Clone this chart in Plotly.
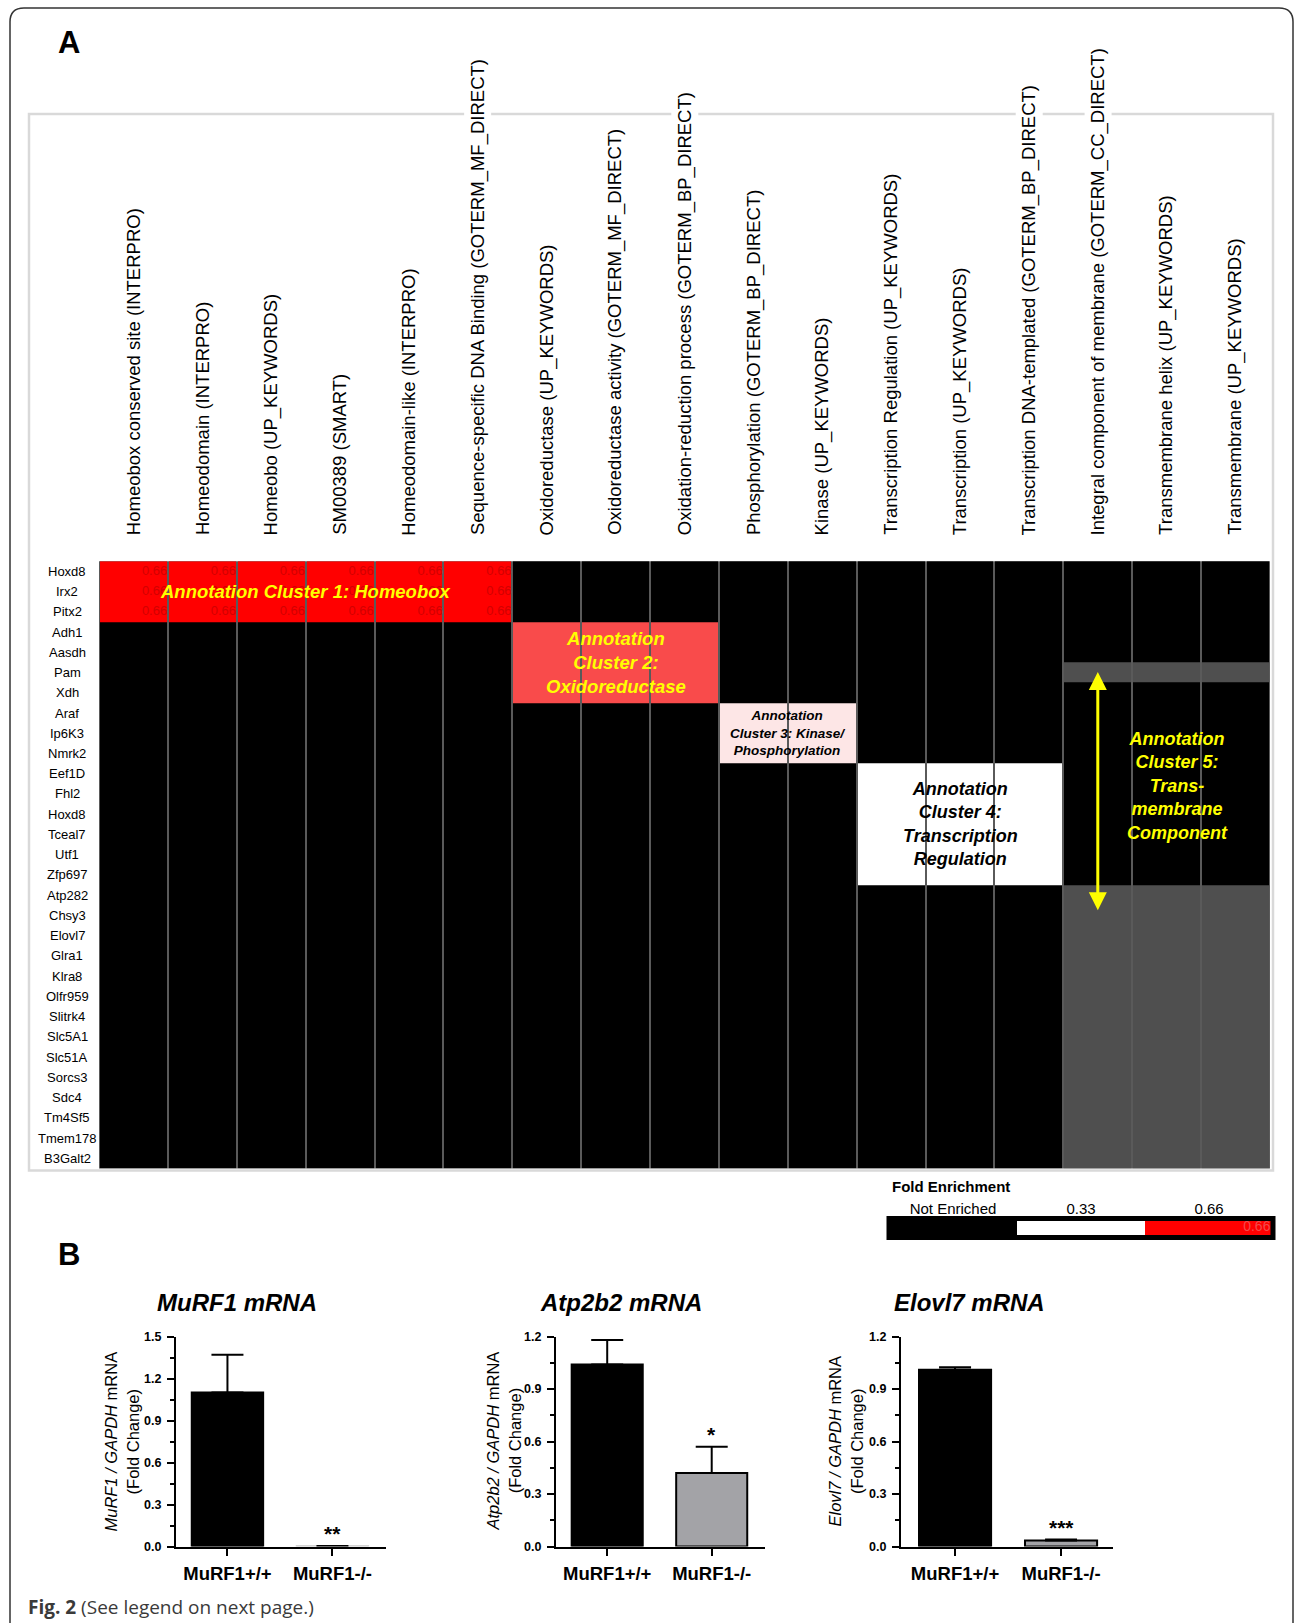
import plotly.graph_objects as go

W, H = 1295, 1623
# measured vertical mapping of the capture (rendered_y = 7 + 0.991 * layout_y); invert it
V_OFF, V_SCALE = 7.0, 0.991


def fx(px):
    return px / W


def fy(py):
    return 1 - (py - V_OFF) / (V_SCALE * H)


# ---------------- Panel A data ----------------
terms = [
    "Homeobox conserved site (INTERPRO)",
    "Homeodomain (INTERPRO)",
    "Homeobo (UP_KEYWORDS)",
    "SM00389 (SMART)",
    "Homeodomain-like (INTERPRO)",
    "Sequence-specific DNA Binding (GOTERM_MF_DIRECT)",
    "Oxidoreductase (UP_KEYWORDS)",
    "Oxidoreductase activity (GOTERM_MF_DIRECT)",
    "Oxidation-reduction process (GOTERM_BP_DIRECT)",
    "Phosphorylation (GOTERM_BP_DIRECT)",
    "Kinase (UP_KEYWORDS)",
    "Transcription Regulation (UP_KEYWORDS)",
    "Transcription (UP_KEYWORDS)",
    "Transcription DNA-templated (GOTERM_BP_DIRECT)",
    "Integral component of membrane (GOTERM_CC_DIRECT)",
    "Transmembrane helix (UP_KEYWORDS)",
    "Transmembrane (UP_KEYWORDS)",
]

genes = [
    "Hoxd8", "Irx2", "Pitx2", "Adh1", "Aasdh", "Pam", "Xdh", "Araf", "Ip6K3",
    "Nmrk2", "Eef1D", "Fhl2", "Hoxd8", "Tceal7", "Utf1", "Zfp697", "Atp282",
    "Chsy3", "Elovl7", "Glra1", "Klra8", "Olfr959", "Slitrk4", "Slc5A1",
    "Slc51A", "Sorcs3", "Sdc4", "Tm4Sf5", "Tmem178", "B3Galt2",
]

# cell categories: 0 not enriched, 1 cluster-5 shading, 2 = 0.33, 3 cluster-3 tint,
# 4 cluster-2 tint, 5 = 0.66
level_colors = ["#000000", "#4f4f4f", "#ffffff", "#fde6e6", "#f94b4b", "#ff0000"]

cluster_rows = [
    [0, 1, 2],
    [3, 4, 5, 6],
    [7, 8, 9],
    [10, 11, 12, 13, 14, 15],
    [5] + list(range(16, 30)),
]
cluster_cols = [
    [0, 1, 2, 3, 4, 5],
    [6, 7, 8],
    [9, 10],
    [11, 12, 13],
    [14, 15, 16],
]
cluster_level = [5, 4, 3, 2, 1]
cluster_labels = [
    "Annotation Cluster 1: Homeobox",
    "Annotation<br>Cluster 2:<br>Oxidoreductase",
    "Annotation<br>Cluster 3: Kinase/<br>Phosphorylation",
    "Annotation<br>Cluster 4:<br>Transcription<br>Regulation",
    "Annotation<br>Cluster 5:<br>Trans-<br>membrane<br>Component",
]
cluster_label_colors = ["#ffff00", "#ffff00", "#000000", "#000000", "#ffff00"]
cluster_label_sizes = [18.5, 18.5, 13.5, 18, 18]

legend_levels = [0, 2, 5]
legend_ticks = ["Not Enriched", "0.33", "0.66"]

# ---------------- Panel B data ----------------
groups = ["MuRF1+/+", "MuRF1-/-"]
gene_titles = ["MuRF1 mRNA", "Atp2b2 mRNA", "Elovl7 mRNA"]
gene_names = ["MuRF1", "Atp2b2", "Elovl7"]
murf1_mean = [1.10, 0.005]
murf1_sem = [0.27, 0.0]
atp2b2_mean = [1.04, 0.42]
atp2b2_sem = [0.14, 0.15]
elovl7_mean = [1.01, 0.035]
elovl7_sem = [0.015, 0.005]
significance = ["**", "*", "***"]
y_max = [1.5, 1.2, 1.2]

# ---------------- build heatmap matrix ----------------
n_r, n_c = len(genes), len(terms)
z = [[0] * n_c for _ in range(n_r)]
for rows, cols, lev in zip(cluster_rows, cluster_cols, cluster_level):
    for r in rows:
        for c in cols:
            z[r][c] = lev

nlev = len(level_colors)
colorscale = []
for k, col in enumerate(level_colors):
    colorscale.append([k / nlev, col])
    colorscale.append([(k + 1) / nlev, col])

fig = go.Figure()

fig.add_trace(go.Heatmap(
    z=z, x=list(range(n_c)), y=list(range(n_r)),
    colorscale=colorscale, zmin=-0.5, zmax=nlev - 0.5, showscale=False,
    xgap=2, ygap=0, hoverinfo="skip", xaxis="x", yaxis="y",
))

# faint value labels in 0.66 cells
tx, ty, tt = [], [], []
for r in range(n_r):
    for c in range(n_c):
        if z[r][c] == 5:
            tx.append(c + 0.49)
            ty.append(r)
            tt.append("0.66")
fig.add_trace(go.Scatter(
    x=tx, y=ty, text=tt, mode="text", textposition="middle left",
    textfont=dict(family="Liberation Sans, Arial", size=13, color="#d20000"),
    hoverinfo="skip", xaxis="x", yaxis="y", cliponaxis=True,
))

# legend bar
fig.add_trace(go.Heatmap(
    z=[legend_levels], x=list(range(len(legend_levels))), y=[0],
    colorscale=colorscale, zmin=-0.5, zmax=nlev - 0.5, showscale=False,
    hoverinfo="skip", xaxis="x5", yaxis="y5",
))
fig.add_trace(go.Scatter(
    x=[len(legend_levels) - 0.52], y=[0], text=[legend_ticks[-1]], mode="text",
    textposition="middle left",
    textfont=dict(family="Liberation Sans, Arial", size=14, color="#f24a4a"),
    hoverinfo="skip", xaxis="x5", yaxis="y5",
))

# ---------------- bar charts ----------------
means = [murf1_mean, atp2b2_mean, elovl7_mean]
sems = [murf1_sem, atp2b2_sem, elovl7_sem]
bar_fill = [["#000000", "#d4d4d4"], ["#000000", "#a3a3a7"], ["#000000", "#a3a3a7"]]
bar_line = [["#000000", "#d4d4d4"], ["#000000", "#000000"], ["#000000", "#000000"]]
for i in range(3):
    xa, ya = f"x{i + 2}", f"y{i + 2}"
    fig.add_trace(go.Bar(
        x=[0, 1], y=means[i], width=0.68,
        marker=dict(color=bar_fill[i], line=dict(color=bar_line[i], width=2)),
        error_y=dict(type="data", array=sems[i], arrayminus=[0, 0], symmetric=False,
                     thickness=2, width=16, color="#000000"),
        hoverinfo="skip", xaxis=xa, yaxis=ya,
    ))

# ---------------- axes ----------------
layout_axes = {}
layout_axes["xaxis"] = dict(domain=[fx(99), fx(1270)], range=[-0.5, n_c - 0.5],
                            showticklabels=False, showgrid=False, zeroline=False,
                            ticks="", fixedrange=True, anchor="y")
layout_axes["yaxis"] = dict(domain=[fy(1168), fy(561)], range=[n_r - 0.5, -0.5],
                            showticklabels=False, showgrid=False, zeroline=False,
                            ticks="", fixedrange=True, anchor="x")

bar_xdom = [(176, 386), (556, 765), (901, 1113)]
bar_xrange = [[-0.49, 1.51], [-0.49, 1.51], [-0.51, 1.49]]
for i in range(3):
    k = i + 2
    layout_axes[f"xaxis{k}"] = dict(
        domain=[fx(bar_xdom[i][0]), fx(bar_xdom[i][1])], range=bar_xrange[i],
        tickvals=[0, 1], ticktext=groups, showline=True, linewidth=2, linecolor="#000000",
        ticks="outside", ticklen=7, tickwidth=2, tickcolor="#000000",
        tickfont=dict(family="Liberation Sans, Arial", size=18.5, color="#000000", weight="bold"),
        ticklabelstandoff=2, showgrid=False, zeroline=False, anchor=f"y{k}",
    )
    layout_axes[f"yaxis{k}"] = dict(
        domain=[fy(1546), fy(1336)], range=[0, y_max[i]], dtick=0.3, tick0=0,
        tickformat=".1f", showline=True, linewidth=2, linecolor="#000000",
        ticks="outside", ticklen=7, tickwidth=2, tickcolor="#000000",
        minor=dict(dtick=0.15, ticks="outside", ticklen=4, tickwidth=2, tickcolor="#000000"),
        tickfont=dict(family="Liberation Sans, Arial", size=12.5, color="#000000", weight="bold"),
        ticklabelstandoff=3, showgrid=False, zeroline=False, anchor=f"x{k}",
    )

layout_axes["xaxis5"] = dict(domain=[fx(889), fx(1273)], range=[-0.5, len(legend_levels) - 0.5],
                             side="top", tickvals=list(range(len(legend_levels))), ticktext=legend_ticks,
                             tickfont=dict(family="Liberation Sans, Arial", size=15, color="#000000"),
                             ticks="", showgrid=False, zeroline=False, anchor="y5")
layout_axes["yaxis5"] = dict(domain=[fy(1237), fy(1218)], range=[-0.5, 0.5], showticklabels=False,
                             ticks="", showgrid=False, zeroline=False, anchor="x5")

# ---------------- annotations ----------------
ann = []
# column labels
for j, t in enumerate(terms):
    ann.append(dict(x=j, xref="x", y=fy(538), yref="paper", text=t, textangle=-90,
                    showarrow=False, xanchor="center", yanchor="bottom", bgcolor="#ffffff",
                    borderpad=2,
                    font=dict(family="Liberation Sans, Arial", size=18.5, color="#000000")))
# row labels
for i, g in enumerate(genes):
    ann.append(dict(x=fx(67), xref="paper", y=i, yref="y", text=g, showarrow=False,
                    xanchor="center", yanchor="middle",
                    font=dict(family="Liberation Sans, Arial", size=13, color="#000000")))
# cluster labels
for k in range(len(cluster_labels)):
    cx = sum(cluster_cols[k]) / len(cluster_cols[k])
    cy = sum(cluster_rows[k]) / len(cluster_rows[k])
    if k == 4:
        cx, cy = 15.15, 10.6
    ann.append(dict(x=cx, xref="x", y=cy, yref="y", text=f"<b><i>{cluster_labels[k]}</i></b>",
                    showarrow=False, xanchor="center", yanchor="middle", align="center",
                    font=dict(family="Liberation Sans, Arial", size=cluster_label_sizes[k],
                              color=cluster_label_colors[k])))
# double-headed arrow for cluster 5
ann.append(dict(x=14, y=16.75, xref="x", yref="y", ax=14, ay=4.9, axref="x", ayref="y",
                text="", showarrow=True, arrowhead=2, arrowsize=1.2, arrowwidth=3,
                arrowside="end+start", arrowcolor="#ffff00", standoff=0, startstandoff=0))
# legend title
ann.append(dict(x=fx(890), y=fy(1186), xref="paper", yref="paper", text="<b>Fold Enrichment</b>",
                showarrow=False, xanchor="left", yanchor="middle",
                font=dict(family="Liberation Sans, Arial", size=15, color="#000000")))
# panel letters
for letter, (px, py) in zip(["A", "B"], [(69, 42), (69, 1254)]):
    ann.append(dict(x=fx(px), y=fy(py), xref="paper", yref="paper", text=f"<b>{letter}</b>",
                    showarrow=False, xanchor="center", yanchor="middle",
                    font=dict(family="Liberation Sans, Arial", size=31, color="#000000")))
# bar chart titles, y titles, significance stars
title_x = [237, 621, 969]
ytitle_x = [122, 504, 846]
for i in range(3):
    ann.append(dict(x=fx(title_x[i]), y=fy(1302), xref="paper", yref="paper",
                    text=f"<b><i>{gene_titles[i]}</i></b>", showarrow=False,
                    xanchor="center", yanchor="middle",
                    font=dict(family="Liberation Sans, Arial", size=24, color="#000000")))
    ann.append(dict(x=fx(ytitle_x[i]), y=fy(1441), xref="paper", yref="paper",
                    text=f"<i>{gene_names[i]} / GAPDH</i> mRNA<br>(Fold Change)",
                    textangle=-90, showarrow=False, xanchor="center", yanchor="middle",
                    font=dict(family="Liberation Sans, Arial", size=16.5, color="#000000")))
    ann.append(dict(x=1, xref=f"x{i + 2}", y=means[i][1] + sems[i][1], yref=f"y{i + 2}",
                    text=f"<b>{significance[i]}</b>", showarrow=False,
                    xanchor="center", yanchor="bottom", yshift=-1,
                    font=dict(family="Liberation Sans, Arial", size=21, color="#000000")))
# caption
ann.append(dict(x=fx(26), y=fy(1606), xref="paper", yref="paper",
                text="<b>Fig. 2</b> (See legend on next page.)", showarrow=False,
                xanchor="left", yanchor="middle",
                font=dict(family="Open Sans, Noto Sans", size=19, color="#3a3a3a")))

# ---------------- shapes ----------------
shapes = []
# gray background under heatmap -> column separator lines via xgap
shapes.append(dict(type="rect", xref="x domain", yref="y domain", x0=0, x1=1, y0=0, y1=1,
                   fillcolor="#5a5a5a", line=dict(width=0), layer="below"))
# light gray frame around panel A heatmap
shapes.append(dict(type="rect", xref="paper", yref="paper", x0=fx(29), x1=fx(1273),
                   y0=fy(1170), y1=fy(114), line=dict(color="#d9d9d9", width=2.5), layer="below"))
# legend bar border
shapes.append(dict(type="rect", xref="x5 domain", yref="y5 domain", x0=0, x1=1, y0=0, y1=1,
                   line=dict(color="#000000", width=5), layer="above"))
# outer rounded figure frame
path = (f"M {fx(10)},{fy(1660)} L {fx(10)},{fy(22)} Q {fx(10)},{fy(8)} {fx(24)},{fy(8)} "
        f"L {fx(1279)},{fy(8)} Q {fx(1293)},{fy(8)} {fx(1293)},{fy(22)} L {fx(1293)},{fy(1660)}")
shapes.append(dict(type="path", xref="paper", yref="paper", path=path,
                   line=dict(color="#333333", width=1.5), layer="below"))

fig.update_layout(
    width=W, height=H, margin=dict(l=0, r=0, t=0, b=0),
    paper_bgcolor="#ffffff", plot_bgcolor="#ffffff", showlegend=False,
    annotations=ann, shapes=shapes, **layout_axes,
)

fig.write_html(
    "out.html",
    config={"displayModeBar": False},
    post_script=("document.documentElement.style.margin='0';document.documentElement.style.padding='0';"
                 "document.body.style.margin='0';document.body.style.padding='0';"
                 "document.body.style.overflow='hidden';"),
)
